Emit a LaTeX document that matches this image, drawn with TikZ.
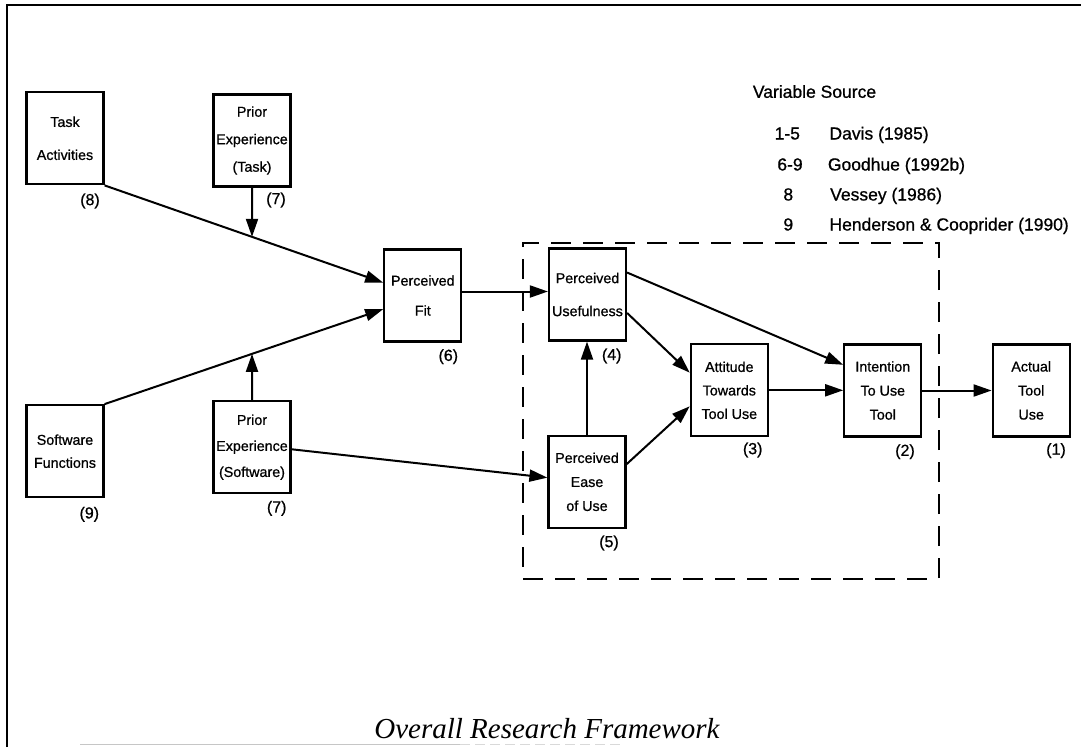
\documentclass[tikz,border=0pt]{standalone}
\usepackage{fontspec}
\setmainfont[FakeBold=0.8]{Liberation Sans}
\newfontfamily\titlefont{Liberation Serif}
\usetikzlibrary{arrows.meta,calc}
\begin{document}
\begin{tikzpicture}[x=1pt,y=-1pt,
  box/.style={draw, line width=2.2pt, minimum width=77pt, minimum height=92pt, inner sep=0pt, align=center, font=\fontsize{14.3}{17}\selectfont},
  num/.style={font=\fontsize{16}{19}\selectfont, inner sep=0pt},
  leg/.style={font=\fontsize{17.5}{21}\selectfont, inner sep=0pt, text height=12.5pt, text depth=3.5pt},
  arr/.style={line width=2pt, -{Triangle[length=18pt,width=12pt]}},
  grpbox/.style={draw, line width=2pt, dash pattern=on 20pt off 12pt, inner sep=0pt}
]
\useasboundingbox (0,0) rectangle (1081,747);
\fill[white] (0,0) rectangle (1081,747);
% outer frame (top and left)
\draw[line width=2pt] (7.3,747) -- (7.3,5) -- (1081,5);
\draw[gray!45, line width=1pt] (80,744) -- (460,744);
\draw[gray!30, line width=1pt, dash pattern=on 10pt off 5pt] (460,744) -- (620,744);

% dashed group
\node[grpbox, minimum width=415.7pt, minimum height=336pt] (grp) at (731.2,410.5) {};

% boxes
\node[box] (TA) at (65,138.3) {Task\\[16pt]Activities};
\node[box] (PT) at (252,140.5) {Prior\\[10.5pt]Experience\\[10.5pt](Task)};
\node[box] (PF) at (422.8,295.5) {Perceived\\[13pt]Fit};
\node[box] (SF) at (65,451.2) {Software\\[6pt]Functions};
\node[box] (PS) at (252,447.2) {Prior\\[9pt]Experience\\[9pt](Software)};
\node[box] (PU) at (587.5,294.5) {Perceived\\[16pt]Usefulness};
\node[box] (PE) at (587,481.8) {Perceived\\[7pt]Ease\\[7pt]of Use};
\node[box] (AT) at (729.3,390.3) {Attitude\\[6.5pt]Towards\\[6.5pt]Tool Use};
\node[box] (IN) at (882.8,390.5) {Intention\\[7pt]To Use\\[7pt]Tool};
\node[box] (AC) at (1031.2,390.4) {Actual\\[7pt]Tool\\[7pt]Use};

% number labels
\node[num] (n8) at (90,201) {(8)};
\node[num] (n7a) at (276,200) {(7)};
\node[num] (n6) at (448.3,356.7) {(6)};
\node[num] (n9) at (89.3,514.3) {(9)};
\node[num] (n7b) at (276.7,508.3) {(7)};
\node[num] (n4) at (611.7,356) {(4)};
\node[num] (n5) at (609,543) {(5)};
\node[num] (n3) at (752.7,450) {(3)};
\node[num] (n2) at (905,451.7) {(2)};
\node[num] (n1) at (1056,450.6) {(1)};

% legend
\node[leg, anchor=west] (lgh) at (752.7,93.3) {Variable Source};
\node[leg] (lk1) at (787.3,135) {1-5};
\node[leg, anchor=west] (lv1) at (829.3,135) {Davis (1985)};
\node[leg] (lk2) at (790,166) {6-9};
\node[leg, anchor=west] (lv2) at (827.7,166) {Goodhue (1992b)};
\node[leg] (lk3) at (788.3,196) {8};
\node[leg, anchor=west] (lv3) at (830,196) {Vessey (1986)};
\node[leg] (lk4) at (788.3,226) {9};
\node[leg, anchor=west] (lv4) at (829.3,226) {Henderson \& Cooprider (1990)};

% title
\node[font={\titlefont\itshape\fontsize{29}{34}\selectfont}, inner sep=0pt] (title) at (547,729) {Overall Research Framework};

% connectors
\coordinate (j1) at (intersection of TA.south east--PF.162 and PT.south--PT.center);
\coordinate (j2) at (intersection of SF.north east--PF.199 and PS.north--PS.center);
\draw[arr] (TA.south east) -- (PF.162);
\draw[arr] (PT.south) -- (j1);
\draw[arr] (SF.north east) -- (PF.199);
\draw[arr] (PS.north) -- (j2);
\draw[arr] ([yshift=4pt]PF.east) -- ([yshift=4pt]PF.east -| PU.west);
\draw[arr] (PU.29) -- (IN.147);
\draw[arr] (PU.335) -- (AT.156);
\draw[arr] (PE.north) -- (PE.north |- PU.south);
\draw[arr] (PE.24) -- (AT.202);
\draw[arr] (PS.357) -- (PE.174);
\draw[arr] (AT.east) -- (AT.east -| IN.west);
\draw[arr] (IN.east) -- (IN.east -| AC.west);
\end{tikzpicture}
\end{document}
